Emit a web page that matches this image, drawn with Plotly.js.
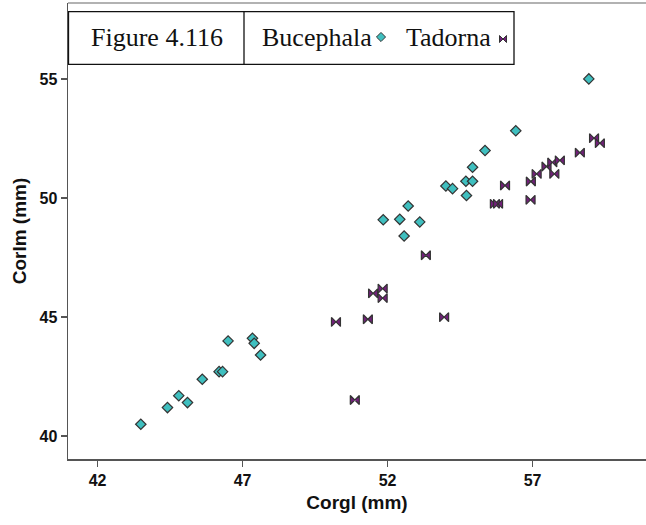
<!DOCTYPE html>
<html>
<head>
<meta charset="utf-8">
<script src="https://cdn.plot.ly/plotly-3.0.1.min.js"></script>
<style>html,body{margin:0;padding:0;background:#fff;}#chart{width:646px;height:525px;}</style>
</head>
<body>
<div id="chart"></div>
<script>
// Bucephala
const bucX = [43.49, 44.41, 44.80, 45.10, 45.61, 46.19, 46.31, 46.50, 47.34, 47.40, 47.62,
              51.85, 52.42, 52.57, 52.71, 53.11, 54.01, 54.24, 54.70, 54.72, 54.93, 54.93, 55.36, 56.42, 58.94];
const bucY = [40.49, 41.19, 41.69, 41.40, 42.38, 42.70, 42.70, 43.99, 44.10, 43.89, 43.40,
              49.08, 49.10, 48.40, 49.66, 48.99, 50.50, 50.39, 50.70, 50.10, 50.70, 51.29, 51.99, 52.82, 55.00];
// Tadorna
const tadX = [50.22, 50.87, 51.32, 51.50, 51.83, 51.83, 53.32, 53.95, 55.70, 55.81, 56.05,
              56.93, 56.94, 57.14, 57.48, 57.68, 57.75, 57.94, 58.63, 59.12, 59.32];
const tadY = [44.79, 41.51, 44.90, 45.99, 46.19, 45.79, 47.59, 44.99, 49.75, 49.75, 50.52,
              49.92, 50.69, 51.01, 51.32, 51.49, 51.01, 51.58, 51.90, 52.51, 52.30];
const xTicks = [42, 47, 52, 57];
const yTicks = [40, 45, 50, 55];
const seriesNames = ['Bucephala', 'Tadorna'];
const figLabel = 'Figure 4.116';

const W = 646, H = 525;
const M = {l: 68, r: 0, t: 3, b: 66};
const PW = W - M.l - M.r, PH = H - M.t - M.b;
const px = v => (v - M.l) / PW;          // pixel x -> paper
const py = v => (H - M.b - v) / PH;      // pixel y -> paper

const bucColor = '#3fbfbf', tadColor = '#72207a', edge = '#333333';

const traces = [
  {x: bucX, y: bucY, type: 'scatter', mode: 'markers', name: seriesNames[0],
   marker: {symbol: 'diamond', size: 8, color: bucColor, line: {color: edge, width: 1.2}}},
  {x: tadX, y: tadY, type: 'scatter', mode: 'markers', name: seriesNames[1],
   marker: {symbol: 'bowtie', size: 9, color: tadColor, line: {color: edge, width: 1.2}}},
  // legend glyphs on an overlay paper-like axis
  {x: [px(381)], y: [py(37)], xaxis: 'x2', yaxis: 'y2', type: 'scatter', mode: 'markers',
   marker: {symbol: 'diamond', size: 7, color: bucColor, line: {color: edge, width: 1}}, hoverinfo: 'skip'},
  {x: [px(503)], y: [py(39)], xaxis: 'x2', yaxis: 'y2', type: 'scatter', mode: 'markers',
   marker: {symbol: 'bowtie', size: 7, color: tadColor, line: {color: edge, width: 1}}, hoverinfo: 'skip'}
];

const tickFont = {family: 'Liberation Sans, Arial, sans-serif', size: 16, color: '#111', weight: 'bold'};
const titleFont = {family: 'Liberation Sans, Arial, sans-serif', size: 19, color: '#111', weight: 'bold'};
const axisBase = {
  showgrid: false, zeroline: false, showline: true, linecolor: '#555', linewidth: 1.5,
  ticks: 'outside', ticklen: 6, tickcolor: '#555', tickwidth: 1.5, tickfont: tickFont
};

const legFont = {family: 'Liberation Serif, Times New Roman, serif', size: 26, color: '#111'};

const layout = {
  width: W, height: H, margin: M, showlegend: false,
  paper_bgcolor: '#fff', plot_bgcolor: '#fff',
  xaxis: Object.assign({}, axisBase, {
    range: [40.98, 40.98 + PW / 29], tickmode: 'array', tickvals: xTicks,
    ticktext: xTicks.map(String),
    title: {text: 'Corgl (mm)', font: titleFont, standoff: 8}
  }),
  yaxis: Object.assign({}, axisBase, {
    range: [39.03, 39.03 + PH / 23.8], tickmode: 'array', tickvals: yTicks,
    ticktext: yTicks.map(String),
    title: {text: 'Corlm (mm)', font: titleFont, standoff: 8}
  }),
  xaxis2: {overlaying: 'x', range: [0, 1], visible: false, fixedrange: true},
  yaxis2: {overlaying: 'y', range: [0, 1], visible: false, fixedrange: true},
  shapes: [
    {type: 'line', xref: 'paper', yref: 'paper', x0: 0, x1: 1, y0: 1, y1: 1, line: {color: '#999', width: 1.5}},
    {type: 'rect', xref: 'paper', yref: 'paper', x0: px(68.5), x1: px(514), y0: py(64.3), y1: py(11.7),
     line: {color: '#111', width: 1.3}, fillcolor: '#fff', layer: 'below'},
    {type: 'line', xref: 'paper', yref: 'paper', x0: px(244), x1: px(244), y0: py(64.3), y1: py(11.7),
     line: {color: '#111', width: 1.3}}
  ],
  annotations: [
    {xref: 'paper', yref: 'paper', x: px(157), y: py(38), text: figLabel, showarrow: false,
     xanchor: 'center', yanchor: 'middle', font: legFont},
    {xref: 'paper', yref: 'paper', x: px(374), y: py(38), text: seriesNames[0], showarrow: false,
     xanchor: 'right', yanchor: 'middle', font: legFont},
    {xref: 'paper', yref: 'paper', x: px(404), y: py(38), text: seriesNames[1], showarrow: false,
     xanchor: 'left', yanchor: 'middle', font: legFont}
  ]
};

Plotly.newPlot('chart', traces, layout, {displayModeBar: false, staticPlot: true});
</script>
</body>
</html>
